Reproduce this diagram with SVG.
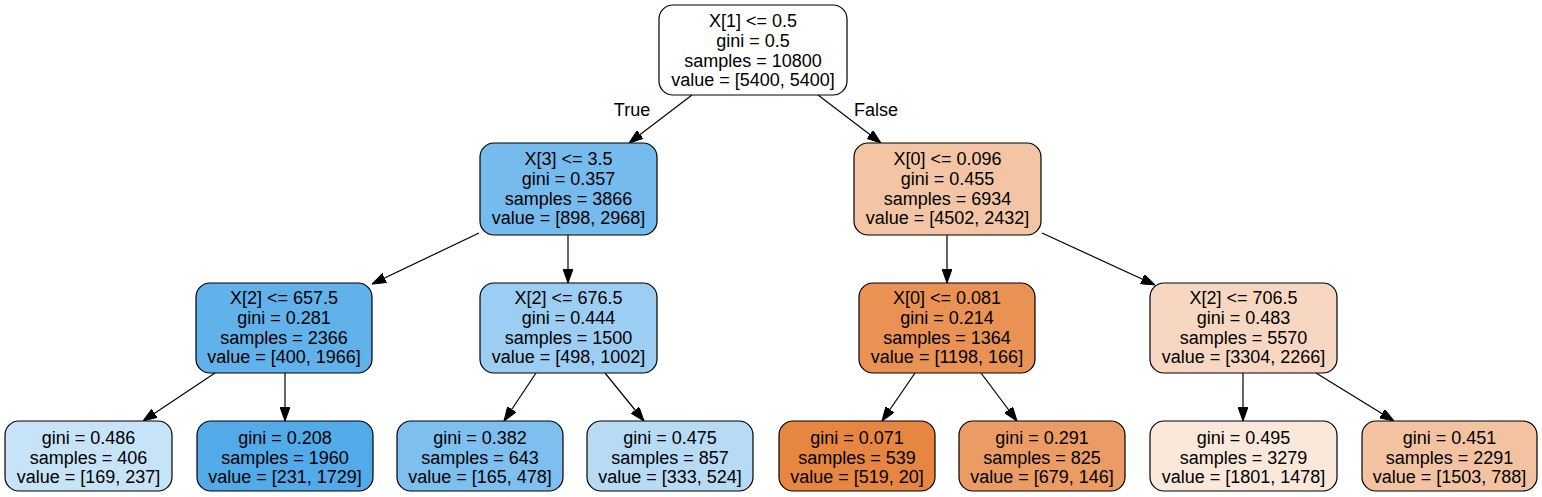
<svg xmlns="http://www.w3.org/2000/svg" width="1542" height="497" viewBox="0 0 1542 497">
<style>
  .box { stroke: #000; stroke-width: 1.2; }
  text { font-family: "Liberation Sans", Arial, Helvetica, sans-serif; font-size: 18px; fill: #000; text-anchor: middle; }
  .edge { stroke: #000; stroke-width: 1.2; fill: none; marker-end: url(#arrow); }
</style>
<defs>
  <marker id="arrow" markerUnits="userSpaceOnUse" viewBox="0 0 14 10" refX="14" refY="5" markerWidth="14" markerHeight="10" orient="auto">
    <path d="M0,0 L14,5 L0,10 z" fill="#000" stroke="#000" stroke-width="1"/>
  </marker>
</defs>
<rect width="1542" height="497" fill="#fff"/>

<g id="edges">
  <line class="edge" x1="692" y1="95" x2="629" y2="143"/>
  <line class="edge" x1="818" y1="95" x2="881" y2="143"/>
  <line class="edge" x1="479" y1="233" x2="372" y2="284"/>
  <line class="edge" x1="568" y1="235" x2="568" y2="283"/>
  <line class="edge" x1="947" y1="235" x2="947" y2="283"/>
  <line class="edge" x1="1042" y1="233" x2="1155" y2="285"/>
  <line class="edge" x1="215" y1="373" x2="143" y2="421"/>
  <line class="edge" x1="285" y1="373" x2="285" y2="421"/>
  <line class="edge" x1="536" y1="373" x2="504" y2="421"/>
  <line class="edge" x1="605" y1="373" x2="644" y2="421"/>
  <line class="edge" x1="915" y1="373" x2="882" y2="421"/>
  <line class="edge" x1="981" y1="373" x2="1017" y2="421"/>
  <line class="edge" x1="1243" y1="373" x2="1243" y2="421"/>
  <line class="edge" x1="1316" y1="373" x2="1394" y2="421"/>
  <text x="632" y="116">True</text>
  <text x="876" y="116">False</text>
</g>

<g id="n0">
  <rect class="box" x="659" y="5" width="188" height="90" rx="14" fill="#ffffff"/>
  <text x="753" y="26.5">X[1] &lt;= 0.5</text>
  <text x="753" y="46.5">gini = 0.5</text>
  <text x="753" y="66.5">samples = 10800</text>
  <text x="753" y="86">value = [5400, 5400]</text>
</g>

<g id="n1">
  <rect class="box" x="480" y="143" width="177" height="92" rx="14" fill="#75bbed"/>
  <text x="568.5" y="164.5">X[3] &lt;= 3.5</text>
  <text x="568.5" y="184.5">gini = 0.357</text>
  <text x="568.5" y="204.5">samples = 3866</text>
  <text x="568.5" y="224">value = [898, 2968]</text>
</g>

<g id="n8">
  <rect class="box" x="854" y="143" width="187" height="92" rx="14" fill="#f3c5a4"/>
  <text x="947.5" y="164.5">X[0] &lt;= 0.096</text>
  <text x="947.5" y="184.5">gini = 0.455</text>
  <text x="947.5" y="204.5">samples = 6934</text>
  <text x="947.5" y="224">value = [4502, 2432]</text>
</g>

<g id="n2">
  <rect class="box" x="196" y="283" width="176" height="90" rx="14" fill="#61b1ea"/>
  <text x="284" y="303.5">X[2] &lt;= 657.5</text>
  <text x="284" y="323.5">gini = 0.281</text>
  <text x="284" y="343.5">samples = 2366</text>
  <text x="284" y="363">value = [400, 1966]</text>
</g>

<g id="n5">
  <rect class="box" x="480" y="283" width="177" height="90" rx="14" fill="#9bcef2"/>
  <text x="568.5" y="303.5">X[2] &lt;= 676.5</text>
  <text x="568.5" y="323.5">gini = 0.444</text>
  <text x="568.5" y="343.5">samples = 1500</text>
  <text x="568.5" y="363">value = [498, 1002]</text>
</g>

<g id="n9">
  <rect class="box" x="859" y="283" width="176" height="90" rx="14" fill="#e99254"/>
  <text x="947" y="303.5">X[0] &lt;= 0.081</text>
  <text x="947" y="323.5">gini = 0.214</text>
  <text x="947" y="343.5">samples = 1364</text>
  <text x="947" y="363">value = [1198, 166]</text>
</g>

<g id="n12">
  <rect class="box" x="1150" y="283" width="187" height="90" rx="14" fill="#f7d7c1"/>
  <text x="1243.5" y="303.5">X[2] &lt;= 706.5</text>
  <text x="1243.5" y="323.5">gini = 0.483</text>
  <text x="1243.5" y="343.5">samples = 5570</text>
  <text x="1243.5" y="363">value = [3304, 2266]</text>
</g>

<g id="n3">
  <rect class="box" x="5" y="421" width="167" height="70" rx="14" fill="#c6e3f7"/>
  <text x="88.5" y="443.5">gini = 0.486</text>
  <text x="88.5" y="463.5">samples = 406</text>
  <text x="88.5" y="483">value = [169, 237]</text>
</g>

<g id="n4">
  <rect class="box" x="197" y="421" width="176" height="70" rx="14" fill="#53aae8"/>
  <text x="285" y="443.5">gini = 0.208</text>
  <text x="285" y="463.5">samples = 1960</text>
  <text x="285" y="483">value = [231, 1729]</text>
</g>

<g id="n6">
  <rect class="box" x="397" y="421" width="166" height="70" rx="14" fill="#7dbfee"/>
  <text x="480" y="443.5">gini = 0.382</text>
  <text x="480" y="463.5">samples = 643</text>
  <text x="480" y="483">value = [165, 478]</text>
</g>

<g id="n7">
  <rect class="box" x="587" y="421" width="166" height="70" rx="14" fill="#b7dbf5"/>
  <text x="670" y="443.5">gini = 0.475</text>
  <text x="670" y="463.5">samples = 857</text>
  <text x="670" y="483">value = [333, 524]</text>
</g>

<g id="n10">
  <rect class="box" x="779" y="421" width="156" height="70" rx="14" fill="#e68641"/>
  <text x="857" y="443.5">gini = 0.071</text>
  <text x="857" y="463.5">samples = 539</text>
  <text x="857" y="483">value = [519, 20]</text>
</g>

<g id="n11">
  <rect class="box" x="959" y="421" width="166" height="70" rx="14" fill="#eb9c64"/>
  <text x="1042" y="443.5">gini = 0.291</text>
  <text x="1042" y="463.5">samples = 825</text>
  <text x="1042" y="483">value = [679, 146]</text>
</g>

<g id="n13">
  <rect class="box" x="1150" y="421" width="187" height="70" rx="14" fill="#fae8db"/>
  <text x="1243.5" y="443.5">gini = 0.495</text>
  <text x="1243.5" y="463.5">samples = 3279</text>
  <text x="1243.5" y="483">value = [1801, 1478]</text>
</g>

<g id="n14">
  <rect class="box" x="1362" y="421" width="175" height="70" rx="14" fill="#f3c3a1"/>
  <text x="1449.5" y="443.5">gini = 0.451</text>
  <text x="1449.5" y="463.5">samples = 2291</text>
  <text x="1449.5" y="483">value = [1503, 788]</text>
</g>
</svg>
